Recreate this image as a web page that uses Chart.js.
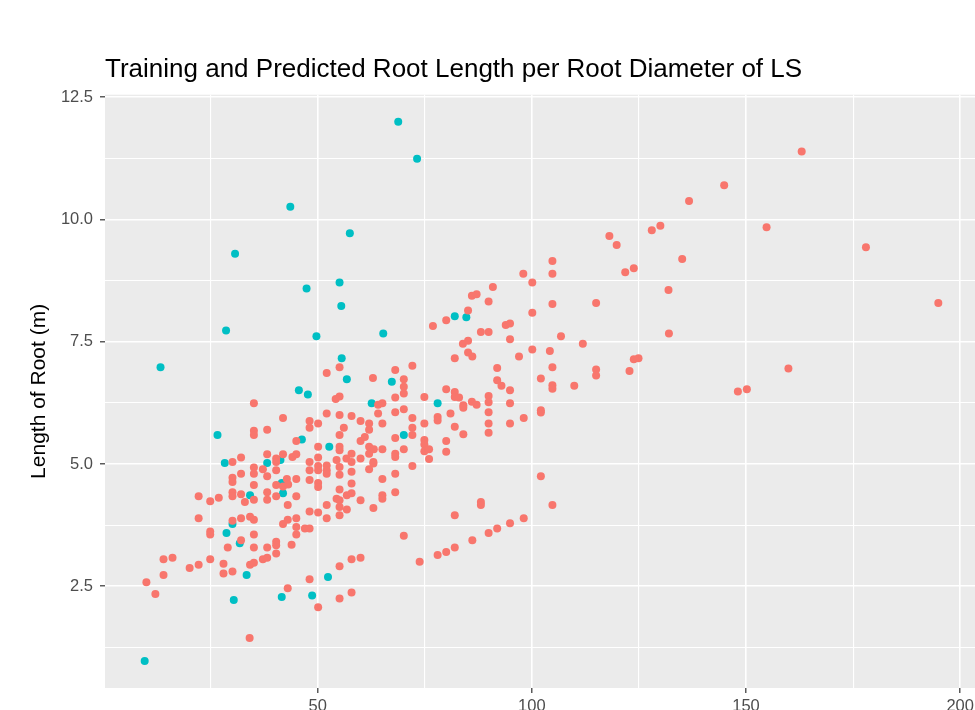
<!DOCTYPE html>
<html>
<head>
<meta charset="utf-8">
<script src="https://cdn.jsdelivr.net/npm/chart.js@4/dist/chart.umd.min.js"></script>
<style>
  html, body { margin: 0; padding: 0; background: #fff; overflow: hidden; }
  #wrap { width: 990px; height: 740px; }
</style>
</head>
<body>
<div id="wrap"><canvas id="chart1" width="990" height="740"></canvas></div>
<script>
const chartTitle = 'Training and Predicted Root Length per Root Diameter of LS'
const yAxisTitle = 'Length of Root (m)'

// red points (root diameter, root length)
const predictedDiameter = [
  55.1, 52.1, 68.1, 72.1, 62.9, 70.1, 70.1, 70.1, 74.9, 55.1, 54.2, 35.1, 64.1, 65.1, 68.1, 70.1,
  68.1, 64.1, 52.1, 55.1, 57.9, 41.9, 72.1, 74.9, 48.1, 48.1, 50.1, 60.0, 62.0, 62.0, 65.1, 56.1,
  35.1, 35.1, 38.2, 55.1, 68.1, 72.1, 72.1, 45.0, 60.0, 61.0, 50.1, 55.1, 55.1, 62.0, 62.0, 63.1,
  65.1, 68.1, 68.1, 70.1, 38.2, 41.9, 44.1, 45.0, 40.3, 40.3, 32.1, 30.1, 48.1, 50.1, 54.4, 56.7,
  57.9, 57.9, 60.0, 63.0, 72.1, 35.1, 35.1, 37.2, 40.3, 48.1, 50.1, 50.1, 52.1, 52.1, 52.1, 55.1,
  55.1, 57.9, 62.0, 63.0, 68.1, 32.1, 30.1, 30.1, 38.2, 42.8, 45.0, 48.1, 50.1, 50.1, 40.3, 41.9,
  43.1, 35.1, 65.1, 57.9, 55.1, 68.1, 30.1, 30.1, 32.1, 38.2, 38.2, 40.3, 45.0, 56.8, 57.9, 65.1,
  65.1, 54.4, 55.1, 55.1, 60.0, 22.2, 24.9, 26.9, 33.0, 35.1, 43.0, 52.1, 56.8, 55.1, 63.0, 48.1,
  50.1, 52.1, 22.2, 32.1, 34.2, 35.1, 45.0, 45.0, 45.0, 41.9, 43.0, 30.1, 47.0, 48.1, 24.9, 24.9,
  35.1, 32.1, 29.0, 35.1, 38.2, 40.3, 40.3, 40.3, 43.9, 37.2, 38.2, 34.2, 35.1, 14.0, 16.1, 20.1,
  22.2, 24.9, 28.0, 28.0, 30.1, 14.0, 10.0, 12.1, 43.0, 50.1, 48.1, 55.1, 55.1, 57.9, 60.0, 57.9,
  73.8, 70.1, 34.1,
  136.7, 128.0, 130.0, 118.1, 119.8, 135.1, 104.8, 104.8, 121.8, 123.8, 98.0, 100.1, 131.9, 90.9,
  86.0, 87.1, 89.9, 104.8, 115.0, 85.1, 100.1, 76.9, 80.0, 88.1, 89.9, 93.9, 94.9, 132.0, 94.9,
  106.8, 83.9, 85.1, 111.9, 82.0, 85.1, 86.1, 97.0, 100.1, 104.2, 104.8, 91.9, 115.0, 115.0, 122.8,
  123.8, 124.9, 102.1, 91.9,
  80.0, 82.0, 82.0, 83.0, 84.0, 84.0, 86.0, 87.1, 89.9, 89.9, 92.9, 94.9, 94.9, 104.8, 104.8, 109.9,
  102.1, 102.1, 78.0, 78.0, 81.0, 82.0, 84.0, 89.9, 89.9, 89.9, 94.9, 98.1, 74.9, 74.9, 74.9, 76.0,
  76.0, 80.0, 80.0, 102.1, 88.1, 88.1, 82.0, 104.8, 98.1, 94.9, 91.9, 89.9, 86.1, 82.0, 80.0, 78.0,
  163.0, 144.9, 154.8, 178.0, 194.9, 159.9, 148.1, 150.2
]
const predictedLength = [
  6.98, 6.86, 6.92, 7.01, 6.76, 6.73, 6.58, 6.44, 6.37, 6.38, 6.33, 6.24, 6.21, 6.24, 6.36, 6.12,
  6.06, 6.03, 6.03, 6.00, 5.98, 5.94, 5.94, 5.83, 5.88, 5.74, 5.83, 5.88, 5.83, 5.70, 5.83, 5.74,
  5.68, 5.59, 5.70, 5.59, 5.53, 5.74, 5.59, 5.47, 5.47, 5.55, 5.35, 5.35, 5.28, 5.35, 5.21, 5.30,
  5.30, 5.21, 5.14, 5.30, 5.20, 5.20, 5.14, 5.20, 5.11, 5.04, 5.13, 5.04, 5.04, 5.13, 5.08, 5.11,
  5.21, 5.04, 5.11, 5.04, 4.96, 4.93, 4.80, 4.89, 4.87, 4.87, 4.96, 4.87, 4.97, 4.87, 4.80, 4.94,
  4.78, 4.84, 4.89, 5.01, 4.80, 4.80, 4.72, 4.63, 4.75, 4.69, 4.69, 4.67, 4.61, 4.53, 4.57, 4.54,
  4.58, 4.57, 4.69, 4.60, 4.48, 4.42, 4.42, 4.34, 4.38, 4.42, 4.27, 4.34, 4.34, 4.36, 4.40, 4.36,
  4.29, 4.29, 4.26, 4.12, 4.26, 4.34, 4.24, 4.31, 4.22, 4.27, 4.16, 4.16, 4.07, 3.95, 4.10, 4.03,
  4.01, 3.89, 3.89, 3.89, 3.92, 3.86, 3.89, 3.71, 3.56, 3.77, 3.86, 3.84, 3.68, 3.68, 3.62, 3.56,
  3.56, 3.44, 3.29, 3.29, 3.29, 3.41, 3.34, 3.17, 3.35, 3.05, 3.08, 2.94, 2.98, 3.05, 3.08, 2.87,
  2.94, 3.05, 2.96, 2.76, 2.80, 2.73, 2.58, 2.34, 2.46, 2.07, 2.64, 2.91, 2.25, 3.05, 3.08, 2.37,
  3.00, 3.53, 1.44,
  10.38, 9.78, 9.87, 9.66, 9.48, 9.19, 9.15, 8.89, 8.92, 9.00, 8.89, 8.71, 8.56, 8.62,
  8.44, 8.47, 8.32, 8.27, 8.29, 8.14, 8.09, 7.82, 7.94, 7.70, 7.70, 7.84, 7.87, 7.67, 7.55,
  7.61, 7.46, 7.52, 7.46, 7.16, 7.28, 7.20, 7.20, 7.34, 7.31, 6.98, 6.96, 6.93, 6.81, 6.90,
  7.14, 7.16, 6.75, 6.71,
  6.53, 6.47, 6.37, 6.36, 6.20, 6.15, 6.27, 6.21, 6.39, 6.26, 6.60, 6.51, 6.24, 6.61, 6.54, 6.60,
  6.10, 6.05, 5.96, 5.89, 6.03, 5.76, 5.61, 6.06, 5.83, 5.64, 5.83, 5.94, 5.49, 5.40, 5.26, 5.30,
  5.10, 5.47, 5.25, 4.75, 4.22, 4.16, 3.95, 4.16, 3.89, 3.79, 3.68, 3.59, 3.44, 3.29, 3.20, 3.14,
  11.39, 10.70, 9.84, 9.43, 8.29, 6.95, 6.48, 6.53
]

// teal points
const trainingDiameter = [
  68.8, 73.2, 43.6, 57.5, 30.7, 47.4, 55.1, 55.5, 28.6, 49.7, 65.3, 13.3, 55.6, 56.8, 67.3, 45.6,
  47.7, 62.6, 26.6, 70.1, 46.3, 52.7, 38.2, 41.3, 28.3, 41.6, 41.9, 34.2, 30.1, 28.7, 31.8, 33.4,
  30.4, 41.6, 48.7, 52.4, 9.6, 82.0, 84.7, 78.0
]
const trainingLength = [
  12.00, 11.24, 10.26, 9.72, 9.30, 8.59, 8.71, 8.23, 7.73, 7.61, 7.67, 6.98, 7.16, 6.73, 6.68, 6.51,
  6.42, 6.24, 5.59, 5.59, 5.50, 5.35, 5.02, 5.08, 5.02, 4.61, 4.40, 4.36, 3.77, 3.59, 3.38, 2.73,
  2.22, 2.28, 2.31, 2.69, 0.97, 8.02, 8.00, 6.24
]

const xMajorTicks = [50, 100, 150, 200]
const xMinorTicks = [25, 75, 125, 175]
const yMajorTicks = [2.5, 5, 7.5, 10, 12.5]
const yMinorTicks = [1.25, 3.75, 6.25, 8.75, 11.25]

const redColor = '#F8766D'
const tealColor = '#00BFC4'
const fontFamily = '"Liberation Sans", Arial, sans-serif'

function toPoints(xs, ys) {
  return xs.map((x, i) => ({x: x, y: ys[i]}))
}

// ggplot style 5% expansion of the data range
function expandRange(values) {
  const lo = Math.min(...values)
  const hi = Math.max(...values)
  const pad = (hi - lo) * 0.05
  return [lo - pad, hi + pad]
}
const xRange = expandRange(predictedDiameter.concat(trainingDiameter))
const yRange = expandRange(predictedLength.concat(trainingLength))

//grey panel behind the grid
const panelBackground = {
  id: 'panelBackground',
  beforeDraw(chart) {
    const {ctx, chartArea} = chart
    ctx.save()
    ctx.fillStyle = '#EBEBEB'
    ctx.fillRect(chartArea.left, chartArea.top, chartArea.width, chartArea.height)
    ctx.restore()
  }
}

function gridOptions(majors) {
  return {
    color: '#FFFFFF',
    lineWidth: c => majors.includes(c.tick && c.tick.value) ? 1.6 : 1.1,
    tickColor: c => majors.includes(c.tick && c.tick.value) ? '#333333' : 'rgba(0,0,0,0)',
    tickWidth: 1.2,
    tickLength: 5,
    drawTicks: true
  }
}

const ctx1 = document.querySelector('#chart1')
const config = {
  type: 'scatter',
  data: {
    datasets: [
      {
        label: 'Predicted',
        data: toPoints(predictedDiameter, predictedLength),
        backgroundColor: redColor,
        borderWidth: 0,
        pointRadius: 4
      },
      {
        label: 'Training',
        data: toPoints(trainingDiameter, trainingLength),
        backgroundColor: tealColor,
        borderWidth: 0,
        pointRadius: 4
      }
    ]
  },
  options: {
    responsive: false,
    animation: false,
    devicePixelRatio: 1,
    events: [],
    layout: {padding: {left: 0, right: 12, top: 0, bottom: 0}},
    plugins: {
      legend: {display: false},
      tooltip: {enabled: false},
      title: {
        display: true,
        text: chartTitle,
        align: 'start',
        fullSize: false,
        color: '#000000',
        font: {family: fontFamily, size: 26, weight: 'normal'},
        padding: {top: 54, bottom: 9.5}
      }
    },
    scales: {
      x: {
        type: 'linear',
        min: xRange[0],
        max: xRange[1],
        border: {display: false},
        grid: gridOptions(xMajorTicks),
        afterBuildTicks: axis => {
          axis.ticks = xMajorTicks.concat(xMinorTicks).sort((a, b) => a - b).map(v => ({value: v}))
        },
        afterFit: scale => { scale.height = 52 },
        ticks: {
          autoSkip: false,
          maxRotation: 0,
          padding: 4,
          color: '#4D4D4D',
          font: {family: fontFamily, size: 16.5},
          callback: v => xMajorTicks.includes(v) ? String(v) : ''
        }
      },
      y: {
        type: 'linear',
        min: yRange[0],
        max: yRange[1],
        border: {display: false},
        grid: gridOptions(yMajorTicks),
        afterBuildTicks: axis => {
          axis.ticks = yMajorTicks.concat(yMinorTicks).sort((a, b) => a - b).map(v => ({value: v}))
        },
        afterFit: scale => { scale.width = 105 },
        title: {
          display: true,
          text: yAxisTitle,
          color: '#000000',
          font: {family: fontFamily, size: 21},
          padding: {top: 27, bottom: 0}
        },
        ticks: {
          autoSkip: false,
          padding: 7,
          color: '#4D4D4D',
          font: {family: fontFamily, size: 16.5},
          callback: v => yMajorTicks.includes(v) ? v.toFixed(1) : ''
        }
      }
    }
  },
  plugins: [panelBackground]
}

let myChart = new Chart(ctx1, config)
</script>
</body>
</html>
